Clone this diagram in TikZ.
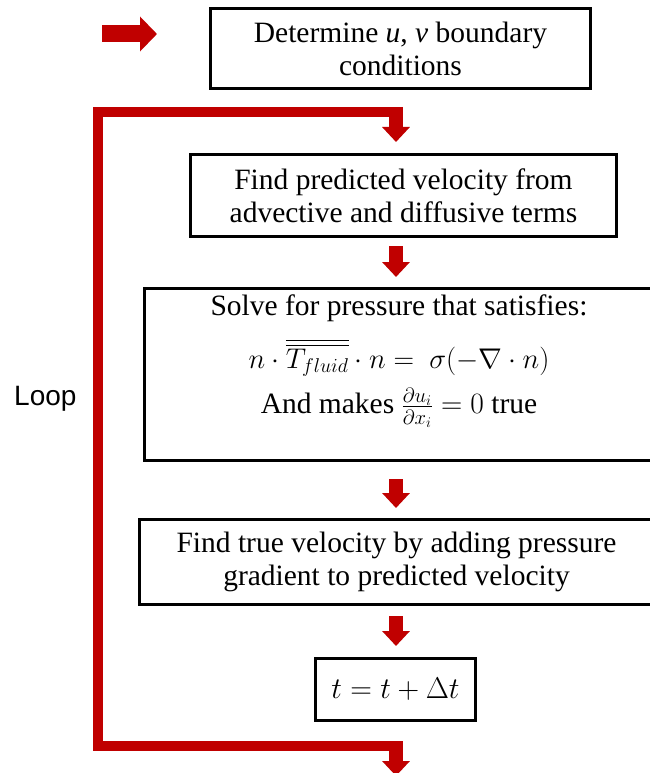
\RequirePackage{fix-cm}
\documentclass[tikz,border=0pt]{standalone}
\usepackage{amsmath}
\usepackage{fontspec}
\setmainfont{Liberation Serif}
\newfontfamily\loopfont{Liberation Sans}
\usepackage{xcolor}
\definecolor{flowred}{RGB}{192,0,0}
\usepackage{tikz}
\usetikzlibrary{arrows.meta, positioning, calc}

\tikzset{
  flowbox/.style={draw=black, line width=3pt, align=center, inner sep=0pt,
                  font=\fontsize{29.5}{33}\selectfont},
  flowarrow/.style={flowred, line width=14pt,
                    -{Triangle[length=15pt, width=27pt]}},
  loopline/.style={flowred, line width=10pt, line join=miter},
}

\begin{document}
\begin{tikzpicture}[x=1pt, y=-1pt]
\useasboundingbox (0,0) rectangle (649,773);

% --- Boxes of the time step ---
\node[flowbox, minimum width=380, minimum height=80] (boundary) at (400.5,48.5)
     {Determine \textit{u}, \textit{v} boundary\\conditions};
\node[flowbox, minimum width=426, minimum height=82] (predict) at (403.5,195.5)
     {Find predicted velocity from\\advective and diffusive terms};
\node[flowbox, minimum width=509, minimum height=172] (solve) at (399,374.5)
     {Solve for pressure that satisfies:\\[16pt]
      {\fontsize{28.5}{33}\selectfont
       $n\cdot\overline{\overline{T_{fluid}}}\cdot n = \ \sigma(-\nabla\cdot n)$}\\[10pt]
      And makes $\frac{\partial u_i}{\partial x_i} = 0$
      true\rule[-40pt]{0pt}{0pt}};
\node[flowbox, minimum width=514, minimum height=85] (truevel) at (396.5,562)
     {Find true velocity by adding pressure\\gradient to predicted velocity};
\node[flowbox, minimum width=160, minimum height=62] (tstep) at (395.5,689.5)
     {\fontsize{30}{33}\selectfont$t = t + \Delta t$};

% Loop label
\node[font=\loopfont\fontsize{28}{34}\selectfont, anchor=base west, inner sep=0pt]
     (looplabel) at (14,405) {Loop};

% --- Arrows ---
\coordinate (axis) at (396,0);
\coordinate (start) at (102,34);
\coordinate (loopbot) at (98,746);
\coordinate (looptop) at (98,112);

% Start arrow
\draw[flowred, line width=17pt, -{Triangle[length=17pt, width=34pt]},
      shorten >=52pt] (start) -- (start -| boundary.west);

% Loop line back to the top
\draw[loopline] (loopbot -| axis) -- (loopbot) -- (looptop) -- (looptop -| axis);
\draw[flowarrow, shorten >=11pt] ($(looptop -| axis)+(0,-5)$) -- (predict.north -| axis);
\draw[flowarrow] ($(loopbot -| axis)+(0,-5)$) -- ++(0,35);

% Between boxes
\draw[flowarrow, shorten <=8pt, shorten >=10pt] (predict.south -| axis) -- (solve.north -| axis);
\draw[flowarrow, shorten <=17pt, shorten >=10pt] (solve.south -| axis) -- (truevel.north -| axis);
\draw[flowarrow, shorten <=10pt, shorten >=11pt] (truevel.south -| axis) -- (tstep.north -| axis);

\end{tikzpicture}
\end{document}
